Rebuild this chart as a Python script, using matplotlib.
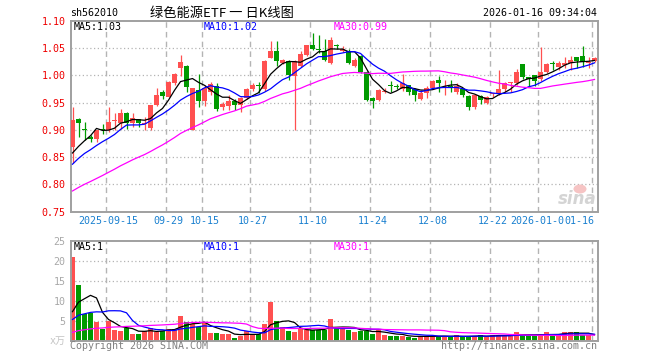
import numpy as np
import pandas as pd
import matplotlib
matplotlib.use("Agg")
import matplotlib.pyplot as plt
from matplotlib.patches import Ellipse

# ---------------- data ----------------
open_ = [0.869, 0.920, 0.902, 0.887, 0.884, 0.902, 0.900, 0.916, 0.912, 0.930,
         0.912, 0.919, 0.911, 0.903, 0.946, 0.970, 0.961, 0.985, 1.013, 1.017,
         0.900, 0.973, 0.953, 0.970, 0.980, 0.942, 0.944, 0.953, 0.945, 0.958,
         0.974, 0.983, 0.974, 1.032, 1.045, 1.022, 1.026, 0.998, 1.017, 1.037,
         1.055, 1.048, 1.045, 1.023, 1.055, 1.045, 1.045, 1.017, 1.035, 1.006,
         0.958, 0.955, 0.970, 0.983, 0.980, 0.974, 0.982, 0.974, 0.956, 0.968,
         0.976, 0.991, 0.976, 0.980, 0.970, 0.974, 0.962, 0.941, 0.962, 0.950,
         0.965, 0.966, 0.974, 0.986, 0.985, 1.020, 0.996, 1.000, 0.994, 1.006,
         1.022, 1.016, 1.019, 1.022, 1.033, 1.035, 1.023, 1.027]
high = [0.941, 0.921, 0.914, 0.890, 0.900, 0.911, 0.941, 0.930, 0.938, 0.933,
        0.930, 0.920, 0.923, 0.946, 0.977, 0.973, 0.990, 1.005, 1.037, 1.018,
        0.977, 1.003, 0.983, 0.988, 0.985, 0.951, 0.963, 0.957, 0.961, 0.977,
        0.986, 0.988, 1.028, 1.063, 1.063, 1.030, 1.028, 1.028, 1.045, 1.056,
        1.077, 1.073, 1.067, 1.070, 1.058, 1.054, 1.048, 1.031, 1.037, 1.008,
        0.960, 0.975, 0.976, 0.990, 0.984, 1.003, 0.983, 0.976, 0.973, 0.980,
        0.992, 0.999, 0.991, 0.992, 0.985, 0.975, 0.964, 0.965, 0.963, 0.962,
        0.968, 1.009, 0.987, 0.988, 1.012, 1.021, 0.997, 1.001, 1.052, 1.022,
        1.027, 1.027, 1.033, 1.035, 1.034, 1.054, 1.033, 1.033]
low = [0.840, 0.887, 0.881, 0.877, 0.877, 0.893, 0.896, 0.900, 0.902, 0.901,
       0.906, 0.905, 0.900, 0.900, 0.944, 0.957, 0.960, 0.982, 0.998, 0.970,
       0.899, 0.941, 0.944, 0.964, 0.935, 0.936, 0.936, 0.937, 0.933, 0.956,
       0.972, 0.968, 0.972, 1.031, 1.017, 1.020, 0.992, 0.900, 1.015, 1.035,
       1.046, 1.040, 1.027, 1.021, 1.048, 1.043, 1.020, 1.015, 1.004, 0.953,
       0.940, 0.953, 0.968, 0.969, 0.974, 0.972, 0.964, 0.953, 0.955, 0.959,
       0.974, 0.970, 0.964, 0.970, 0.966, 0.961, 0.936, 0.939, 0.948, 0.948,
       0.960, 0.964, 0.970, 0.970, 0.983, 0.994, 0.980, 0.980, 0.990, 1.005,
       1.010, 1.010, 1.013, 1.010, 1.013, 1.016, 1.013, 1.024]
close = [0.918, 0.912, 0.900, 0.884, 0.899, 0.900, 0.914, 0.918, 0.930, 0.912,
         0.921, 0.912, 0.913, 0.945, 0.964, 0.962, 0.988, 1.003, 1.025, 0.978,
         0.976, 0.953, 0.976, 0.984, 0.939, 0.947, 0.953, 0.945, 0.958, 0.974,
         0.982, 0.981, 1.027, 1.045, 1.026, 1.028, 1.000, 1.026, 1.039, 1.055,
         1.049, 1.046, 1.028, 1.064, 1.053, 1.049, 1.022, 1.028, 1.006, 0.955,
         0.953, 0.973, 0.972, 0.981, 0.978, 0.985, 0.970, 0.964, 0.968, 0.976,
         0.990, 0.986, 0.979, 0.979, 0.980, 0.964, 0.941, 0.964, 0.955, 0.960,
         0.967, 0.974, 0.985, 0.987, 1.006, 0.997, 0.994, 0.990, 1.006, 1.020,
         1.021, 1.022, 1.023, 1.028, 1.027, 1.025, 1.025, 1.031]
volume = [21.0, 13.9, 6.8, 7.0, 4.75, 3.0, 5.0, 2.7, 2.4, 3.25,
          1.8, 1.75, 2.5, 3.25, 2.25, 2.4, 3.0, 3.0, 6.25, 4.75,
          4.2, 3.5, 4.5, 2.0, 2.0, 1.75, 1.75, 0.75, 1.3, 2.4,
          1.7, 1.8, 4.25, 9.75, 4.9, 3.5, 2.4, 2.2, 3.0, 2.8,
          2.8, 2.8, 2.7, 5.4, 3.1, 3.1, 2.7, 2.25, 2.5, 2.4,
          1.6, 2.8, 1.4, 1.25, 1.25, 1.2, 1.0, 0.8, 1.2, 1.2,
          1.3, 1.0, 1.0, 1.0, 1.4, 1.0, 1.0, 1.2, 1.4, 1.0,
          1.4, 1.4, 1.3, 1.4, 2.2, 1.3, 1.3, 1.3, 1.4, 2.3,
          1.4, 1.4, 2.2, 2.2, 2.2, 1.4, 1.4, 0.3]

# history before the first visible day, estimated from where the MA lines start
earlier_close = [0.720, 0.725, 0.730, 0.735, 0.735, 0.740, 0.745, 0.745, 0.750, 0.755,
                 0.765, 0.770, 0.775, 0.780, 0.785, 0.790, 0.795, 0.800, 0.810, 0.820,
                 0.805, 0.810, 0.815, 0.822, 0.830, 0.852, 0.848, 0.838, 0.832]
earlier_volume = [0.3, 0.4, 0.4, 0.3, 0.5, 0.4, 0.4, 0.5, 0.4, 0.5,
                  0.5, 0.4, 0.5, 0.6, 0.4, 0.5, 0.5, 0.6, 0.5, 0.5,
                  3.2, 3.3, 3.4, 3.4, 3.4, 2.0, 2.5, 2.8, 8.0]

tick_index = [6, 16, 22, 30, 40, 50, 60, 70, 78, 87]
tick_labels = ["2025-09-15", "09-29", "10-15", "10-27", "11-10", "11-24",
               "12-08", "12-22", "2026-01-05", "01-16"]
price_ticks = [0.75, 0.80, 0.85, 0.90, 0.95, 1.00, 1.05, 1.10]
vol_ticks = [5, 10, 15, 20, 25]

code = "sh562010"
title = "绿色能源ETF 一 日K线图"
stamp = "2026-01-16 09:34:04"

# ---------------- derived ----------------
n = len(close)
x = np.arange(n)
o = np.array(open_); h = np.array(high); l = np.array(low); c = np.array(close)
v = np.array(volume)

def ma(series, earlier, k):
    s = pd.Series(list(earlier) + list(series))
    return s.rolling(k).mean().to_numpy()[len(earlier):]

ma5, ma10, ma30 = (ma(close, earlier_close, k) for k in (5, 10, 30))
vma5, vma10, vma30 = (ma(volume, earlier_volume, k) for k in (5, 10, 30))

RED = "#ff5050"
GREEN = "#009a00"
up = c >= o
colors = np.where(up, RED, GREEN)

W, H = 660, 360
def fx(px): return px / W
def fy(py): return 1 - py / H

MONO = "DejaVu Sans Mono"
FS = 7.2

fig = plt.figure(figsize=(6.6, 3.6), dpi=100)
fig.patch.set_facecolor("white")

L, R = 70.7, 597.5
ax = fig.add_axes([fx(L), fy(211.7), (R - L) / W, 191.0 / H])
axv = fig.add_axes([fx(L), fy(340.7), (R - L) / W, 100.0 / H])

grid_x = [t - 0.4 for t in tick_index]

for a in (ax, axv):
    a.set_xlim(-0.3, n - 0.5)
    for s in a.spines.values():
        s.set_color("#a0a0a0")
        s.set_linewidth(1.4)
    a.tick_params(length=0)
    for gx in grid_x:
        a.axvline(gx, color="#b4b4b4", lw=1.0, ls=(0, (4, 3)), zorder=0)

# ---------------- price panel ----------------
ax.set_ylim(0.75, 1.10)
for yv in price_ticks[1:-1]:
    ax.axhline(yv, color="#b4b4b4", lw=0.9, ls=(0, (1, 2)), zorder=0)

ax.vlines(x, l, h, colors=colors, lw=0.9, zorder=2)
body_h = np.maximum(np.abs(c - o), 0.0012)
ax.bar(x, body_h, bottom=np.minimum(o, c), width=0.8, color=colors,
       linewidth=0, zorder=3)

ax.plot(x, ma5, color="black", lw=0.9, zorder=4)
ax.plot(x, ma10, color="#0000ff", lw=0.9, zorder=4)
ax.plot(x, ma30, color="#ff00ff", lw=0.9, zorder=4)

ax.set_yticks(price_ticks)
ax.set_yticklabels([f"{t:.2f}" for t in price_ticks], color="#ee0000",
                   fontsize=FS, family=MONO)
ax.tick_params(axis="y", pad=3.6)
ax.set_xticks(tick_index)
ax.set_xticklabels(tick_labels, color="#1a80d0", fontsize=FS, family=MONO)
ax.tick_params(axis="x", pad=3.0)
lbls = ax.get_xticklabels()
lbls[-1].set_horizontalalignment("right")
lbls[-1].set_bbox(dict(facecolor="white", edgecolor="none", pad=0.2))

# ---------------- volume panel ----------------
axv.set_ylim(0, 25)
for yv in vol_ticks[:-1]:
    axv.axhline(yv, color="#b4b4b4", lw=0.9, ls=(0, (1, 2)), zorder=0)
axv.bar(x, v, width=0.8, color=colors, linewidth=0, zorder=2)
axv.plot(x, vma5, color="black", lw=0.9, zorder=4)
axv.plot(x, vma10, color="#0000ff", lw=0.9, zorder=4)
axv.plot(x, vma30, color="#ff00ff", lw=0.9, zorder=4)
axv.set_yticks(vol_ticks)
axv.set_yticklabels([str(t) for t in vol_ticks], color="#a8a8a8",
                    fontsize=FS, family=MONO)
axv.tick_params(axis="y", pad=3.6)
axv.set_xticks([])

# ---------------- texts ----------------
fig.text(fx(70), fy(13), code, fontsize=FS, family=MONO, va="center", ha="left")
fig.text(fx(150), fy(13), title, fontsize=9.5,
         family=["Noto Sans CJK SC", "DejaVu Sans"], va="center", ha="left")
fig.text(fx(597), fy(13), stamp, fontsize=FS, family=MONO, va="center", ha="right")

fig.text(fx(74), fy(26.5), f"MA5:{ma5[-1]:.2f}", fontsize=FS, family=MONO,
         color="black", va="center")
fig.text(fx(204), fy(26.5), f"MA10:{ma10[-1]:.2f}", fontsize=FS, family=MONO,
         color="#0000ff", va="center")
fig.text(fx(334), fy(26.5), f"MA30:{ma30[-1]:.2f}", fontsize=FS, family=MONO,
         color="#ff00ff", va="center")

fig.text(fx(74), fy(246.5), f"MA5:{int(vma5[-1])}", fontsize=FS, family=MONO,
         color="black", va="center")
fig.text(fx(204), fy(246.5), f"MA10:{int(vma10[-1])}", fontsize=FS, family=MONO,
         color="#0000ff", va="center")
fig.text(fx(334), fy(246.5), f"MA30:{int(vma30[-1])}", fontsize=FS, family=MONO,
         color="#ff00ff", va="center")

fig.text(fx(65.5), fy(341), "x万", fontsize=FS,
         family=[MONO, "Noto Sans CJK SC"], color="#c4c4c4", va="center", ha="right")
fig.text(fx(70), fy(346), "Copyright 2026 SINA.COM", fontsize=FS, family=MONO,
         color="#808080", va="center", ha="left")
fig.text(fx(597), fy(346), "http://finance.sina.com.cn", fontsize=FS, family=MONO,
         color="#808080", va="center", ha="right")

# sina watermark
fig.patches.append(Ellipse((fx(580), fy(189)), 13 / W, 9 / H, transform=fig.transFigure,
                           facecolor="#f6c4c4", edgecolor="none", zorder=5))
fig.text(fx(597), fy(199), "sina", fontsize=12, style="italic", weight="bold",
         color="#d4d4d4", va="center", ha="right", zorder=6)

fig.savefig("out.png", dpi=100, facecolor="white")
